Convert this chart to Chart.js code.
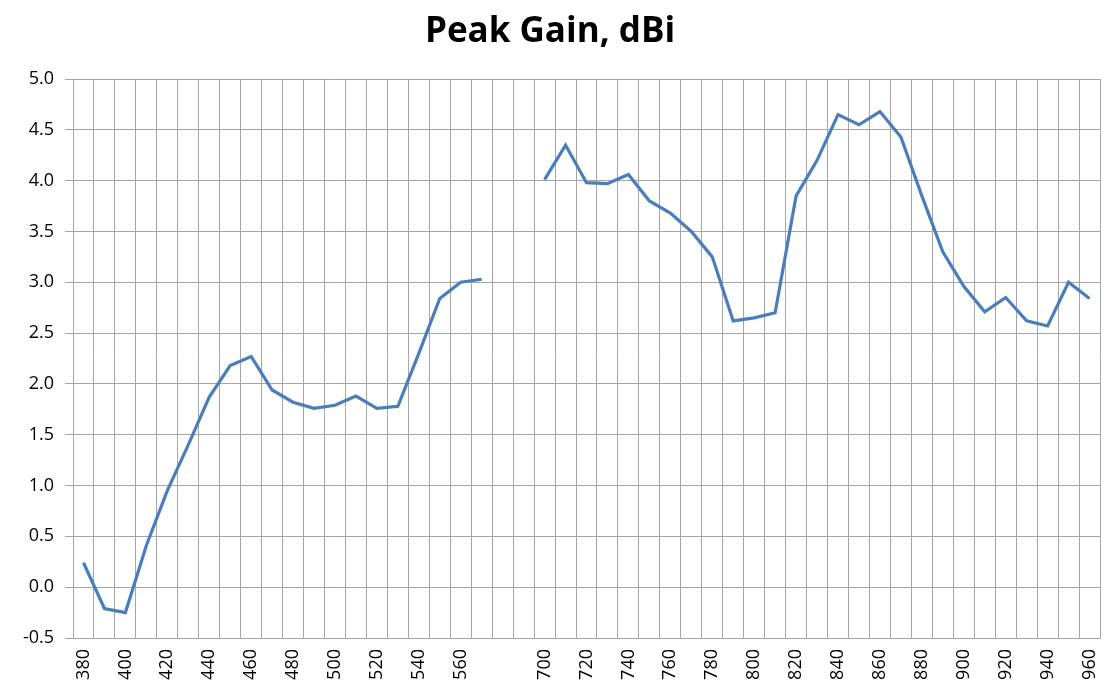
<!DOCTYPE html>
<html>
<head>
<meta charset="utf-8">
<title>Peak Gain, dBi</title>
<script src="https://cdn.jsdelivr.net/npm/chart.js@4"></script>
<style>
    html, body { margin: 0; padding: 0; background: #fff; }
    .chart-box { width: 1114px; height: 691px; }
</style>
</head>
<body>
<div class="chart-box"><canvas id="gain-chart"></canvas></div>
<script>
// frequency categories (MHz) - two blank slots form the gap between bands
const freqLow = [380, 390, 400, 410, 420, 430, 440, 450, 460, 470, 480, 490, 500, 510, 520, 530, 540, 550, 560, 570];
const freqHigh = [700, 710, 720, 730, 740, 750, 760, 770, 780, 790, 800, 810, 820, 830, 840, 850, 860, 870, 880, 890, 900, 910, 920, 930, 940, 950, 960];
const gapSlots = ['', ''];

const gainLow = [0.24, -0.21, -0.25, 0.41, 0.95, 1.40, 1.87, 2.18, 2.27, 1.94, 1.82, 1.76, 1.79, 1.88, 1.76, 1.78, 2.30, 2.84, 3.00, 3.03];
const gainHigh = [4.01, 4.35, 3.98, 3.97, 4.06, 3.80, 3.68, 3.50, 3.25, 2.62, 2.65, 2.70, 3.85, 4.20, 4.65, 4.55, 4.68, 4.43, 3.85, 3.30, 2.96, 2.71, 2.85, 2.62, 2.57, 3.00, 2.84];

const yTicks = [-0.5, 0, 0.5, 1.0, 1.5, 2.0, 2.5, 3.0, 3.5, 4.0, 4.5, 5.0];

document.addEventListener('DOMContentLoaded', function() {
    const labels = freqLow.map(String).concat(gapSlots, freqHigh.map(String));
    const values = gainLow.concat(gapSlots.map(() => null), gainHigh);
    const gridColor = '#a6a6a6';
    const font = "'Open Sans', 'Liberation Sans', sans-serif";

    const ctx = document.getElementById('gain-chart').getContext('2d');
    new Chart(ctx, {
        type: 'line',
        data: {
            labels: labels,
            datasets: [{
                label: 'Peak Gain',
                data: values,
                borderColor: '#4a7ebb',
                borderWidth: 3.2,
                pointRadius: 0,
                tension: 0,
                spanGaps: false
            }]
        },
        options: {
            responsive: true,
            maintainAspectRatio: false,
            animation: false,
            layout: { padding: { left: 0, right: 14, top: 0, bottom: 0 } },
            plugins: {
                legend: { display: false },
                tooltip: { enabled: false },
                title: {
                    display: true,
                    text: 'Peak Gain, dBi',
                    color: '#000',
                    font: { family: font, size: 35, weight: 'bold', lineHeight: 1.2 },
                    padding: { top: 11, bottom: 26 }
                }
            },
            scales: {
                x: {
                    type: 'category',
                    offset: true,
                    grid: { color: gridColor, offset: true, drawTicks: false },
                    border: { color: gridColor },
                    afterFit: function(scale) {
                        scale.height = 53;
                        // keep the rotated end labels from shrinking the plot
                        scale.paddingLeft = 0;
                        scale.paddingRight = 0;
                    },
                    ticks: {
                        autoSkip: false,
                        maxRotation: 90,
                        minRotation: 90,
                        padding: 11,
                        color: '#000',
                        font: { family: font, size: 18 },
                        callback: function(val, i) {
                            return i % 2 === 0 ? this.getLabelForValue(val) : '';
                        }
                    }
                },
                y: {
                    min: yTicks[0],
                    max: yTicks[yTicks.length - 1],
                    afterBuildTicks: function(scale) {
                        scale.ticks = yTicks.map(v => ({ value: v }));
                    },
                    afterFit: function(scale) { scale.width = 73; },
                    grid: { color: gridColor, tickLength: 8 },
                    border: { color: gridColor },
                    ticks: {
                        padding: 11,
                        color: '#000',
                        font: { family: font, size: 18 },
                        callback: function(v) { return Number(v).toFixed(1); }
                    }
                }
            }
        }
    });
});
</script>
</body>
</html>
